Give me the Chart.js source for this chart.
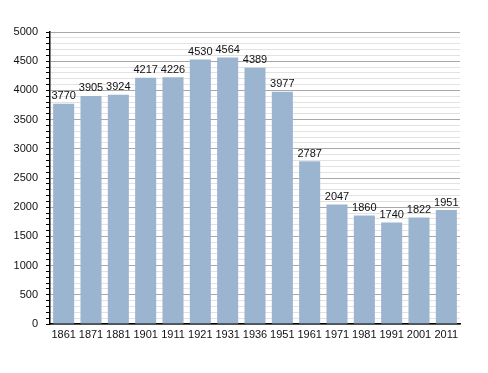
<!DOCTYPE html>
<html>
<head>
<meta charset="utf-8">
<script src="https://cdn.jsdelivr.net/npm/chart.js@4/dist/chart.umd.min.js"></script>
<style>
  html, body { margin: 0; padding: 0; background: #fff; }
  #wrap { width: 488px; height: 373px; }
</style>
</head>
<body>
<div id="wrap"><canvas id="popChart" width="488" height="373"></canvas></div>
<script>
// ===== DATOS =====
const years = ['1861', '1871', '1881', '1901', '1911', '1921', '1931', '1936', '1951', '1961', '1971', '1981', '1991', '2001', '2011'];
const population = [3770, 3905, 3924, 4217, 4226, 4530, 4564, 4389, 3977, 2787, 2047, 1860, 1740, 1822, 1951];
const yMax = 5000;
const yStep = 100;
const yLabelStep = 500;

// etiquetas encima de cada barra
const barLabels = {
    id: 'barLabels',
    afterDatasetsDraw(chart) {
        const ctx = chart.ctx;
        const meta = chart.getDatasetMeta(0);
        ctx.save();
        ctx.font = '11px "Liberation Sans", Arial, sans-serif';
        ctx.fillStyle = '#111';
        ctx.textAlign = 'center';
        ctx.textBaseline = 'bottom';
        meta.data.forEach((bar, i) => {
            ctx.fillText(String(population[i]), bar.x, bar.y - 2);
        });
        ctx.restore();
    }
};

new Chart(document.getElementById('popChart'), {
    type: 'bar',
    data: {
        labels: years,
        datasets: [{
            data: population,
            backgroundColor: '#9bb4d0',
            borderWidth: 0,
            barPercentage: 0.77,
            categoryPercentage: 1.0
        }]
    },
    options: {
        responsive: false,
        animation: false,
        layout: { padding: { top: 32, right: 28, bottom: 27, left: 0 } },
        plugins: {
            legend: { display: false },
            tooltip: { enabled: false }
        },
        scales: {
            x: {
                grid: { display: false, drawTicks: false },
                border: { color: '#000', width: 1.5 },
                ticks: {
                    color: '#111',
                    padding: 4,
                    maxRotation: 0,
                    autoSkip: false,
                    font: { family: '"Liberation Sans", Arial, sans-serif', size: 11 }
                },
                afterFit(scale) { scale.height = 22; }
            },
            y: {
                min: 0,
                max: yMax,
                border: { color: '#000', width: 1.5 },
                grid: {
                    color: c => (c.tick.value % yLabelStep === 0 ? '#a8a8a8' : '#e2e2e2'),
                    tickColor: '#000',
                    tickLength: 4,
                    lineWidth: 1
                },
                ticks: {
                    stepSize: yStep,
                    autoSkip: false,
                    color: '#111',
                    padding: 8,
                    font: { family: '"Liberation Sans", Arial, sans-serif', size: 11 },
                    callback: v => (v % yLabelStep === 0 ? v : '')
                },
                afterFit(scale) { scale.width = 50; }
            }
        }
    },
    plugins: [barLabels]
});
</script>
</body>
</html>
